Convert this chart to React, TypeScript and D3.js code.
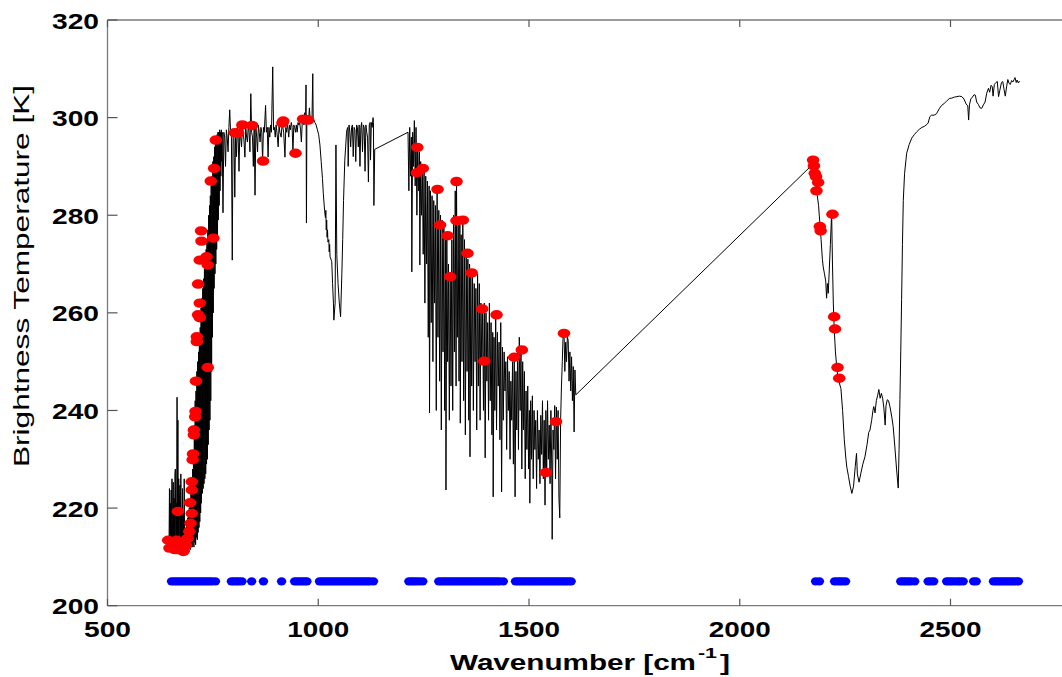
import React from "react";
import * as d3 from "d3";

// ---- Data ----
const xTicks = [500, 1000, 1500, 2000, 2500, 3000];
const yTicks = [200, 220, 240, 260, 280, 300, 320];

// spectrum segments: [wavenumber, brightness temperature]
const specLW1: [number, number][] = [
  [646,213],[647,224],[648,211],[649,221],[650,212],[651,223.7],[652,211],[653,226],[654,213],[655,219],[656,225.3],[657,211],[658,222],[659,213],[660,227],[661,228],[662,212],[663,221],[664,214],[665,242.7],[666,213],[667,238],[668,211],[669,226],[670,213],[671,222],[672,224.7],[673,211],[674,227],[675,212],[676,220],[677,213],[678,224],[679,211],[680,219],[681,212],[682,226],[683,213],
  [684,215],[685,211],[686,216],[687,212],[688,217],[689,211],[690,218],[691,212],[692,219],[693,211],[694,220],[695,212],[696,221],[697,211.5],[698,223],[699,212],[700,226],[701,212],[702,228],[703,213],[704,231],[705,212],[706,237],[707,213],[708,242],[709,212.5],[710,244],[711,214],[712,248],[713,213.5],[714,250],[715,215],[716,252],[717,216],[718,255],[719,217.2],[720,257],[721,219],[722,261],[723,221],[724,263],[725,223],[726,265],[727,224],[728,267],[729,225],[730,269],[731,226],[732,271],[733,227],[734,273],[735,229],[736,275],[737,230],[738,277],[739,233],[740,280],[741,236],[742,282],[743,238],[744,284],[745,242],[746,286],[747,248],[748,288],[749,255],[750,291],[751,260],[752,292],[753,265],[754,294],[755,268],[756,295],[757,270],[758,296],[759,273],[760,296.5],[761,276],[762,297],[763,279],[764,297],[765,282],[766,297.5],[767,285],[768,297],[769,288],[770,297.5],[771,291],[772,297],
];
const specLW2: [number, number][] = [
  [774,280.5],[776,297],[778,296],[780,290],[782,297.5],[784,296],[786,293],[788,298],[790,301.6],[792,297],[794,296],[796,270.8],[797,285],[798,297],[800,296.5],[802,283.7],[804,297.5],[806,292],[808,298],[810,296],[812,289],[814,297.5],[816,296],[818,294],[820,298],[822,297],[824,295],[826,291.9],[828,298],[830,296],[832,295],[834,298.5],[836,297],[838,293],[840,304.9],[842,297],[844,296],[846,290],[848,298],[850,284.1],[852,298],[854,296],[856,293],[858,298.5],[860,297],[862,295],[864,298],[866,297],[868,291],[870,298],[872,297],[875,302.5],[877,297],[879,298],[881,291.9],[883,298],[885,296],[887,298.5],[889,297],[892,310.4],[894,297.5],[896,298],[898,296],[900,298.5],[902,297],[905,294],[907,298.5],[909,297],[912,296],[914,298.5],[916,298],[918,297],[921,291.9],[923,298],[925,297],[927,299],[930,296],[932,298.5],[934,297.5],[936,299],[938,298],[940,293],[942,298.5],[944,298],[946,297],[948,298.5],[950,297],[952,299],[954,298.5],[956,299],[958,297.5],[960,295],[962,299],[964,300],[966,298.5],[968,301],[970,299],[971,306.7],[972,278.4],[973,299],[975,300.5],[977,299],[979,302],[981,299.5],[983,300],[985,299],[987,309],[988,299.5],[990,299.5],
];
const specLW3: [number, number][] = [
  [992,299],[995,298.5],[998,297.5],[1001,296.5],[1004,294.4],[1007,291],[1010,287.5],[1012,284.5],[1015,281],[1017,279.5],[1018,281],[1019,277],[1020,279],[1021,275.5],[1022,277],[1023,274.5],[1025,275],[1026,272.5],[1027,274],[1028,271.5],[1030,271],[1032,270.5],[1034,266],[1036,262],[1037,258.5],[1040,262],[1042,294.4],[1044,272],[1047,266],[1050,262],[1053,259.2],[1056,268],[1058,275],[1060,283],[1063,291.3],[1065,294],[1067,296.8],
  [1068,297.5],[1070,298],[1071,290],[1073,298.5],[1075,297],[1077,294],[1079,298],[1081,298.5],[1083,292],[1085,298],[1087,297.5],[1089,291],[1091,298.5],[1093,298],[1095,294],[1097,298.5],[1099,290],[1101,298],[1103,299],[1105,293],[1107,298.5],[1109,298],[1111,289],[1113,298.5],[1115,297],[1117,296],[1119,286.8],[1121,298.5],[1123,299],[1124,291.3],[1126,299],[1128,298],[1130,300],[1131,299],[1132,282],[1134,293.5],
];
const specMW: [number, number][] = [
  [1213,297],[1215,285],[1217,298],[1219,288],[1221,296],[1222,268.4],[1224,297],[1226,290],[1228,299.4],[1230,286],[1232,298],[1234,280],[1236,294],[1238,285],[1240,293],[1241,269.8],[1243,291],[1245,280],[1247,290],[1249,272],[1251,289],[1253,262],[1255,288],[1257,270],[1259,287],[1261,255],[1263,286],[1264,239.5],[1266,285],[1268,258],[1270,284],[1272,250],[1274,283],[1276,262],[1278,282],[1280,240],[1282,285.3],[1284,255],[1286,281],[1288,246],[1290,280],[1292,236],[1294,279],[1296,252],[1298,278],[1300,240],[1302,276],[1303,223.7],[1305,275.8],[1307,250],[1309,270],[1311,238],[1313,267.4],[1315,245],[1317,275],[1319,240],[1321,280],[1323,252],[1325,285],[1327,245],[1328,287.2],[1330,255],[1332,278],[1334,246],[1336,279],[1337,237.4],[1339,276],[1341,250],[1343,279],[1345,242],[1347,275],[1349,235],[1351,272],[1353,248],[1355,271],[1357,238],[1359,270],[1360,230.5],[1362,268],[1364,245],[1366,268.2],[1368,240],[1370,266],[1372,250],[1374,265],[1376,236],[1378,268],[1380,245],[1382,266],[1384,238],[1386,262],[1388,250],[1390,261],[1392,240],[1394,262],[1396,230.3],[1398,260],[1400,246],[1402,258],[1404,238],[1406,262],[1408,242],[1410,258],[1412,235],[1414,256],[1415,222.3],[1417,255],[1419,240],[1421,259.6],[1423,236],[1425,256],[1427,245],[1429,254],[1431,234],[1433,258],[1435,223.3],[1437,253],[1439,238],[1441,252],[1443,244],[1445,250],[1447,232],[1449,251],[1451,240],[1453,248],[1455,230],[1457,246],[1459,238],[1461,250],[1463,229],[1465,251],[1467,222.3],[1469,248],[1471,236],[1473,252],[1475,232],[1477,255],[1479,240],[1481,253],[1483,228],[1485,250],[1487,236],[1489,248],[1491,226],[1493,244],[1495,232],[1497,245],[1499,228],[1501,240],[1502,221],[1504,242],[1506,230],[1508,243],[1510,226],[1512,240],[1514,232],[1516,238],[1518,224],[1520,240],[1522,230],[1524,236],[1526,225],[1528,239],[1530,231],[1532,242],[1534,226],[1536,238],[1538,220.6],[1540,240],[1542,227.3],[1544,242],[1546,230],[1548,237],[1550,225],[1552,240],[1554,228],[1555,213.6],[1557,236],[1559,232],[1561,241],[1563,226],[1565,240.7],[1567,230],[1569,240],[1571,222],[1573,218],[1575,238],[1577,245],[1579,250],[1581,255.8],[1583,256.5],[1585,248],[1587,254],[1589,250],[1591,255],[1593,254.4],[1595,246],[1597,252],[1599,244],[1601,251],[1603,242],[1605,249],[1607,235.6],[1609,248.3],[1611,243.2],
];
const specSW: [number, number][] = [
  [2168,290],[2172,291.3],[2175,290],[2178,288],[2181,286],[2184,284],[2187,282],[2190,278.4],[2193,275],[2196,271],[2198,269.4],[2201,268],[2204,266.5],[2206,263],[2208,266],[2210,264],[2212,268],[2215,274],[2218,280.4],[2220,270],[2222,262],[2224,257],[2227,252],[2231,248],[2235,246],[2240,244.5],[2244,240],[2248,234],[2252,230],[2254,228.4],[2258,226.5],[2262,224.5],[2266,223],[2270,224.5],[2274,228.5],[2277,231.2],[2279,227],[2283,225.3],[2287,227],[2292,229],[2297,230.5],[2302,233],[2306,235.5],[2309,236],[2313,238],[2316,240],[2318,240.8],[2321,239.5],[2324,242],[2327,243],[2330,244.3],[2333,242.5],[2336,243.5],[2339,242.5],[2342,240.5],[2345,237],[2347,241],[2350,242.2],[2353,242],[2357,240.5],[2361,238.5],[2364,236.7],[2368,232.5],[2372,228],[2376,224.1],[2378,232],[2380,242.2],[2382,252],[2384,262.7],[2386,274],[2388,283],[2391,288.5],[2396,292.7],[2402,294.5],[2408,295.8],[2414,296.5],[2420,297.1],[2426,297.6],[2432,298],[2438,298.2],[2444,298.6],[2447,298.9],[2451,300.2],[2455,300.5],[2461,300.5],[2467,300.8],[2473,301.8],[2479,302.5],[2485,302.9],[2491,303.4],[2497,303.9],[2503,304],[2509,304.2],[2515,304.3],[2521,304.4],[2527,304.3],[2532,303.8],[2537,302.8],[2541,302.4],[2543,299.5],[2545,302.6],[2548,303.8],[2552,304.2],[2556,304.7],[2559,304.6],[2562,303.2],[2566,302.7],[2570,302],[2574,301.9],[2578,302.6],[2582,303.2],[2586,305],[2590,306],[2593,305.2],[2596,306.6],[2599,306.4],[2601,304.4],[2604,306.8],[2608,307.2],[2611,307.4],[2614,304.3],[2617,305.6],[2621,307.2],[2624,307.4],[2627,305.8],[2630,304.4],[2633,306.3],[2636,307.8],[2639,307],[2642,306.8],[2645,307.6],[2648,307.3],[2651,307.8],[2653,308.2],[2656,307.2],[2658,307.7],[2661,307.1],[2664,307.5],
];

// selected channels (red)
const selectedLW: [number, number][] = [
  [644,213.4],[647,211.8],[652,213],[656,212.4],[660,211.5],[664,213.4],[668,211.5],[672,211.8],[676,212.5],[680,211.1],[686,212.4],[690,213.8],[694,215.2],[697,216.9],[700,218.9],[667,219.3],[696,221.1],[700,223.7],[700,225.4],[702,229.9],[703,231.1],[705,235],[705,236],[708,238.7],[709,239.8],[710,246],[738,248.8],[712,254.1],[712,255.1],[719,259],[715,259.6],[719,262],[715,265.9],[719,270.8],[735,271.5],[738,269.8],[723,274.7],[722,276.8],[751,275.3],[745,287],[753,289.6],[757,295.4],
  [802,296.9],[810,296.8],[820,298.5],[843,298.4],[869,291.1],[915,298.9],[917,299.3],[946,292.7],[964,299.7],[970,299.6],[976,299.5],
];
const selectedMW: [number, number][] = [
  [1235,293.9],[1234,288.7],[1248,289.6],[1283,285.3],[1328,286.9],[1289,278],[1307,275.8],[1328,278.9],[1343,279],[1313,267.4],[1354,272.2],[1364,268.2],[1389,260.8],[1423,259.6],[1394,250.1],[1465,250.9],[1483,252.4],[1540,227.3],[1564,237.7],[1583,255.8],
];
const selectedSW: [number, number][] = [
  [2174,291.3],[2176,290.1],[2178,288.6],[2181,287.9],[2186,286.7],[2182,285],[2190,277.7],[2192,276.8],[2220,280.2],[2224,259.2],[2226,256.7],[2232,248.8],[2236,246.6],
];

// channel locations (blue, plotted at 205 K)
const channelRowBT = 205;
const channelWn: number[] = [
  652,658,664,670,676,682,688,694,700,706,712,718,724,730,736,742,748,756,
  794,800,806,812,819,
  842,870,913,
  944,950,956,962,968,973,
  1003,1009,1015,1021,1027,1033,1039,1045,1051,1057,1063,1069,1075,1081,1087,1093,1099,1105,1111,1117,1123,1131,
  1215,1221,1227,1233,1240,1248,
  1286,1292,1298,1304,1310,1316,1322,1328,1334,1340,1346,1352,1358,1364,1370,1376,1382,1388,1394,1400,1406,1412,1418,1424,1430,1439,
  1468,1474,1480,1486,1492,1498,1504,1510,1516,1522,1528,1534,1540,1546,1552,1558,1564,1570,1576,1582,1588,1594,1600,
  2180,2189,
  2225,2232,2238,2244,2251,
  2382,2388,2394,2400,2406,2415,
  2447,2453,2460,
  2491,2497,2503,2510,2517,2523,2530,
  2555,2561,
  2602,2608,2614,2620,2626,2632,2638,2644,2650,2656,2661,
];

const W = 1062;
const H = 677;
const FONT = "'Liberation Sans', Arial, Helvetica, sans-serif";

export default function App() {
  const x = d3.scaleLinear().domain([500, 3000]).range([107.5, 1161.25]);
  const y = d3.scaleLinear().domain([200, 320]).range([605.7, 20]);
  const spectrum = [...specLW1, ...specLW2, ...specLW3, ...specMW, ...specSW];
  const line = d3
    .line<[number, number]>()
    .x((d) => x(d[0]))
    .y((d) => y(d[1]));
  const red = [...selectedLW, ...selectedMW, ...selectedSW];
  const x0 = x(500);
  const x1 = x(3000);
  const yTop = y(320);
  const yBot = y(200);
  const axisColor = "#7a7a7a";

  return (
    <svg
      width={W}
      height={H}
      style={{ position: "absolute", left: 0, top: 0, background: "#fff" }}
    >
      <rect x={0} y={0} width={W} height={H} fill="#fff" />
      {/* channel row */}
      <g fill="#0000ff">
        {channelWn.map((w, i) => (
          <ellipse key={i} cx={x(w)} cy={y(channelRowBT)} rx={4.7} ry={4.1} />
        ))}
      </g>
      {/* spectrum */}
      <path d={line(spectrum) || ""} fill="none" stroke="#000" strokeWidth={1} />
      {/* selected channels */}
      <g fill="#ff0000">
        {red.map((d, i) => (
          <ellipse key={i} cx={x(d[0])} cy={y(d[1])} rx={6.3} ry={4.7} />
        ))}
      </g>
      {/* frame */}
      <g stroke={axisColor} strokeWidth={1.3} fill="none">
        <line x1={x0} y1={yTop} x2={x1} y2={yTop} />
        <line x1={x0} y1={yBot} x2={x1} y2={yBot} />
        <line x1={x0} y1={yTop} x2={x0} y2={yBot} />
        <line x1={x1} y1={yTop} x2={x1} y2={yBot} />
      </g>
      {/* ticks */}
      <g stroke="#555" strokeWidth={1.2}>
        {xTicks.map((t) => (
          <g key={t}>
            <line x1={x(t)} y1={yBot} x2={x(t)} y2={yBot - 7} />
            <line x1={x(t)} y1={yTop} x2={x(t)} y2={yTop + 7} />
          </g>
        ))}
        {yTicks.map((t) => (
          <g key={t}>
            <line x1={x0} y1={y(t)} x2={x0 + 10} y2={y(t)} />
            <line x1={x1} y1={y(t)} x2={x1 - 10} y2={y(t)} />
          </g>
        ))}
      </g>
      {/* tick labels */}
      <g fontFamily={FONT} fontWeight="bold" fontSize={22} fill="#000">
        {yTicks.map((t) => (
          <text
            key={t}
            x={99}
            y={y(t) + 8.5}
            textAnchor="end"
            textLength={47}
            lengthAdjust="spacingAndGlyphs"
          >
            {t}
          </text>
        ))}
        {xTicks
          .filter((t) => x(t) < W - 40)
          .map((t) => {
            const s = String(t);
            return (
              <text
                key={t}
                x={x(t)}
                y={637}
                textAnchor="middle"
                textLength={s.length === 4 ? 62 : 47}
                lengthAdjust="spacingAndGlyphs"
              >
                {s}
              </text>
            );
          })}
      </g>
      {/* x label */}
      <g fontFamily={FONT} fontWeight="bold" fill="#000">
        <text x={450} y={670} fontSize={22} textLength={246} lengthAdjust="spacingAndGlyphs">
          Wavenumber [cm
        </text>
        <text x={698} y={658} fontSize={15} textLength={19} lengthAdjust="spacingAndGlyphs">
          -1
        </text>
        <text x={720} y={670} fontSize={22} textLength={10} lengthAdjust="spacingAndGlyphs">
          ]
        </text>
      </g>
      {/* y label */}
      <text
        transform="translate(29,276) rotate(-90)"
        textAnchor="middle"
        fontFamily={FONT}
        fontSize={22}
        textLength={382}
        lengthAdjust="spacingAndGlyphs"
        fill="#000"
      >
        Brightness Temperature [K]
      </text>
    </svg>
  );
}
